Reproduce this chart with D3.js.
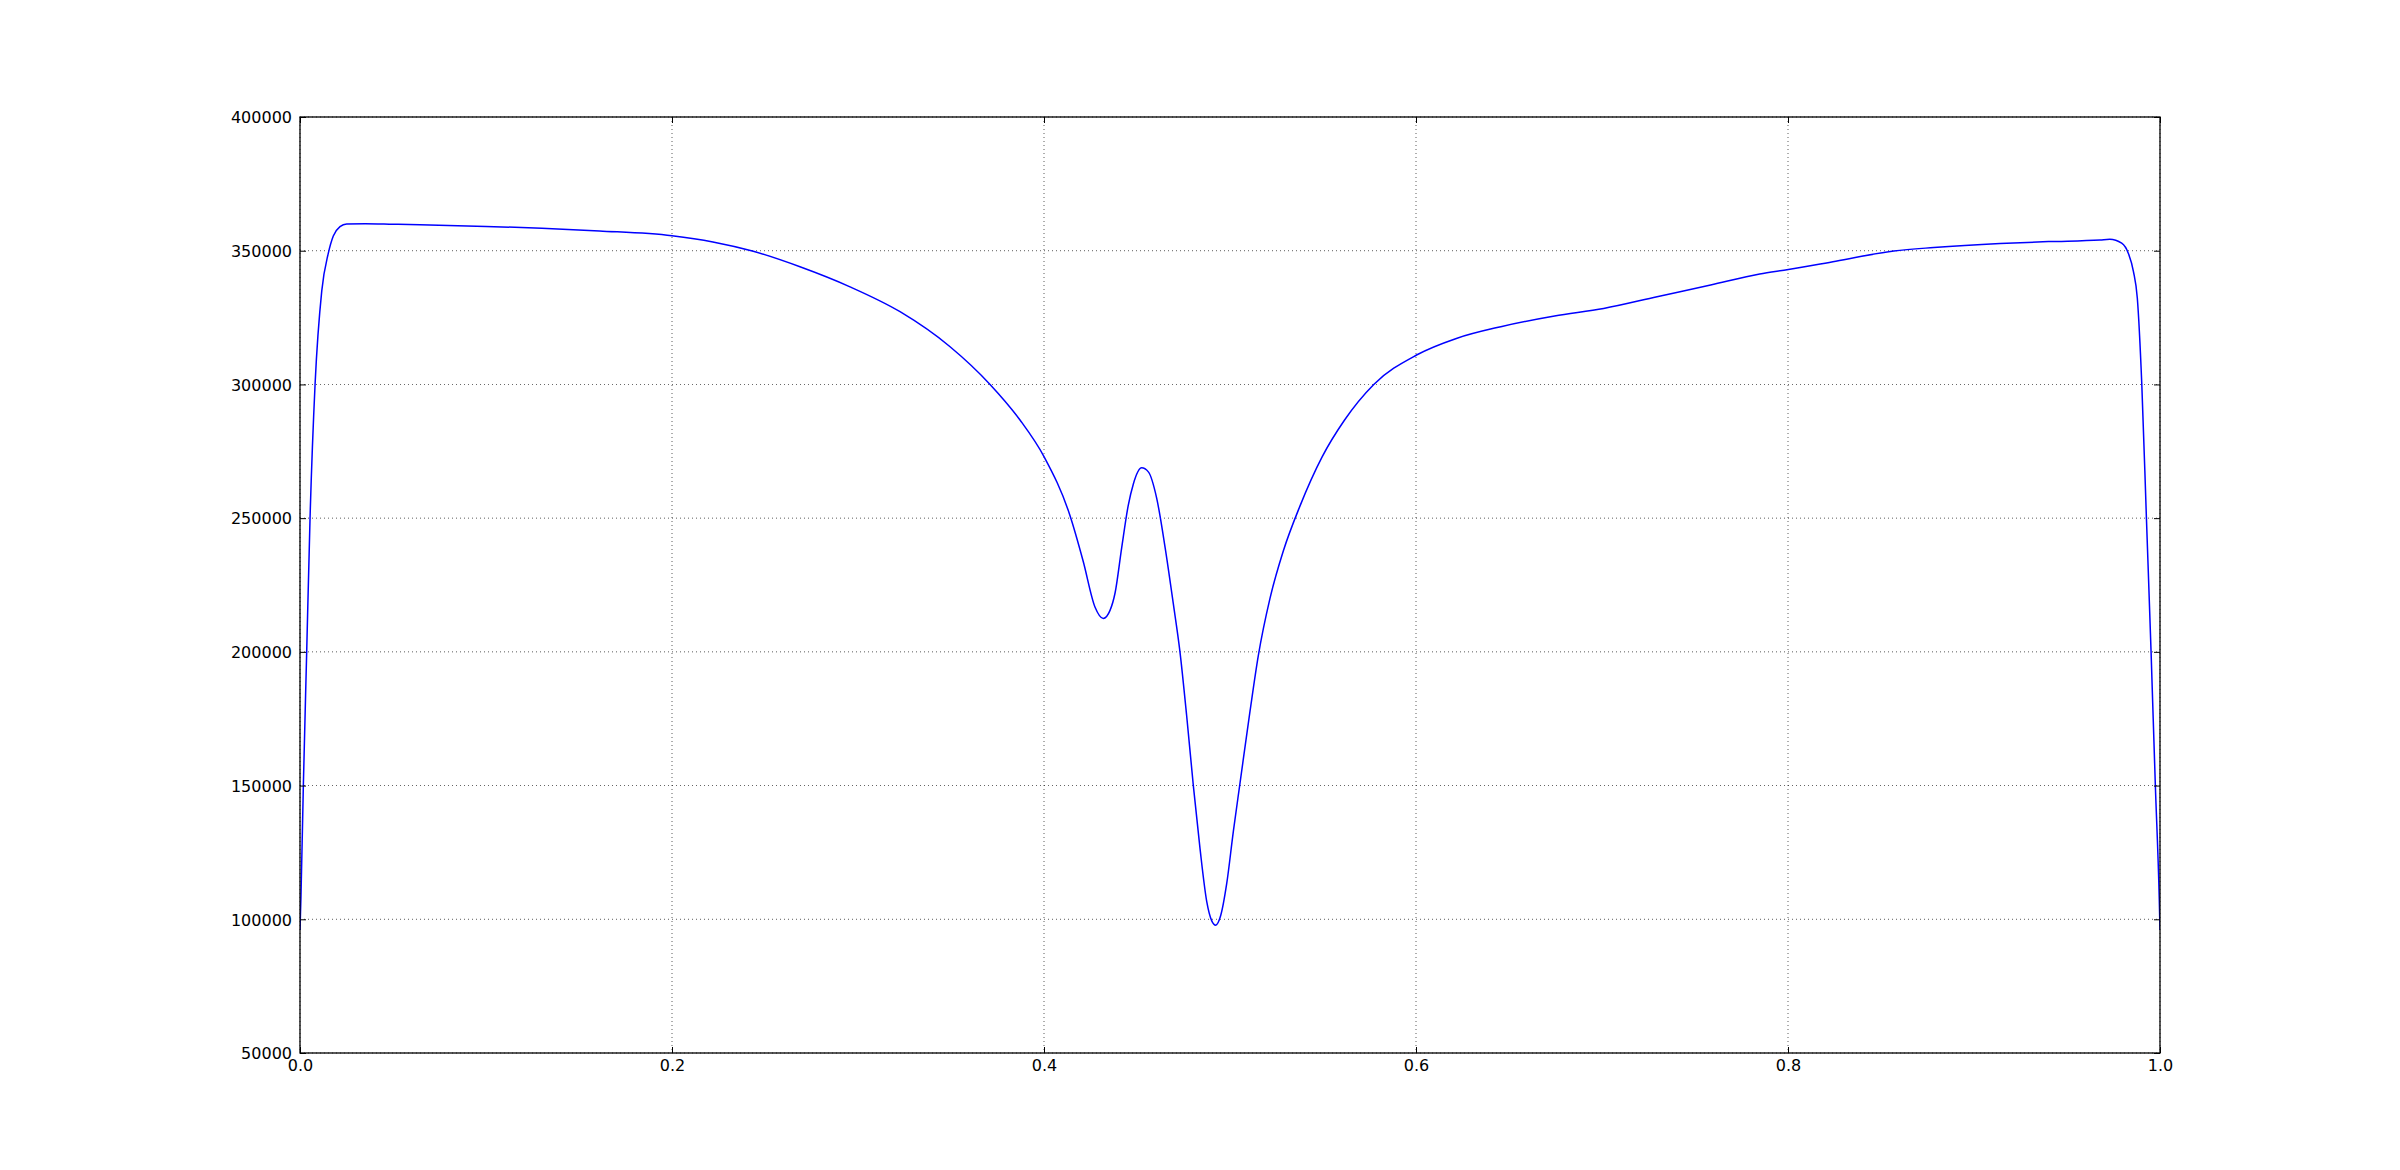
<!DOCTYPE html>
<html>
<head>
<meta charset="utf-8">
<script src="https://cdn.jsdelivr.net/npm/d3@7"></script>
<style>
  html, body { margin: 0; padding: 0; background: #fff; }
  svg { display: block; }
  .tick text { font-family: "DejaVu Sans", sans-serif; font-size: 16px; fill: #000; }
</style>
</head>
<body>
<svg id="chart" width="2400" height="1170"></svg>
<script>
// ---- data ----
const xValues = [
  0, 0.0005, 0.0018, 0.0036, 0.0054, 0.0081, 0.0117, 0.0152, 0.0179, 0.0215,
  0.0251, 0.035, 0.05, 0.0645, 0.1, 0.13, 0.161, 0.2, 0.222, 0.2437, 0.2688,
  0.2957, 0.3226, 0.3495, 0.371, 0.3871, 0.4, 0.414, 0.4211, 0.4274, 0.4319,
  0.4355, 0.4382, 0.4418, 0.4453, 0.448, 0.4525, 0.4561, 0.4606, 0.4651, 0.4695,
  0.4731, 0.4767, 0.4803, 0.4839, 0.4875, 0.4902, 0.4923, 0.495, 0.4982, 0.5018,
  0.5054, 0.5108, 0.5152, 0.5215, 0.5287, 0.5376, 0.5496, 0.5616, 0.5773, 0.6003,
  0.6217, 0.6456, 0.6745, 0.7009, 0.7296, 0.7584, 0.7848, 0.8002, 0.8257, 0.8569,
  0.8784, 0.914, 0.94, 0.9677, 0.973, 0.9794, 0.983, 0.9857, 0.9878, 0.9902,
  0.9927, 0.9952, 0.9975, 0.9996, 1.0
];
const yValues = [
  96000, 108000, 150000, 200000, 250000, 300000, 335000, 349000, 355500, 359000,
  360000, 360100, 359900, 359700, 359100, 358400, 357400, 355600, 353300, 349800, 344000,
  336500, 327200, 314100, 300000, 286700, 273000, 250900, 233800, 216800, 212500,
  215500, 222000, 239100, 254800, 262700, 268800, 267300, 257400, 239100, 218100,
  200000, 176100, 149900, 126300, 106600, 99400, 97800, 101400, 113200, 132900,
  151000, 178000, 198500, 220000, 237800, 254500, 273000, 286700, 300000, 311000,
  317200, 321600, 325600, 328400, 332800, 337200, 341300, 343000, 346100, 349900,
  351200, 352700, 353400, 354000, 354300, 352800, 349000, 342300, 332300, 300300,
  250000, 200000, 150000, 107700, 96000
];
const xTicks = [0, 0.2, 0.4, 0.6, 0.8, 1.0];
const yTicks = [50000, 100000, 150000, 200000, 250000, 300000, 350000, 400000];

// ---- layout ----
const margin = { left: 300, right: 240, top: 117, bottom: 117 };
const W = 2400, H = 1170;
const iw = W - margin.left - margin.right;
const ih = H - margin.top - margin.bottom;

const svg = d3.select("#chart");
svg.append("rect").attr("width", W).attr("height", H).attr("fill", "#fff");
const g = svg.append("g").attr("transform", `translate(${margin.left},${margin.top})`);

const x = d3.scaleLinear().domain([0, 1]).range([0, iw]);
const y = d3.scaleLinear().domain([50000, 400000]).range([ih, 0]);

// grid
const grid = g.append("g");
grid.selectAll("line.gx").data(xTicks).join("line")
  .attr("x1", d => x(d)).attr("x2", d => x(d))
  .attr("y1", 0).attr("y2", ih)
  .attr("stroke", "#000").attr("stroke-width", 0.8)
  .attr("stroke-dasharray", "1,3").attr("opacity", 0.8);
grid.selectAll("line.gy").data(yTicks).join("line")
  .attr("y1", d => y(d)).attr("y2", d => y(d))
  .attr("x1", 0).attr("x2", iw)
  .attr("stroke", "#000").attr("stroke-width", 0.8)
  .attr("stroke-dasharray", "1,3").attr("opacity", 0.8);

// clip
svg.append("defs").append("clipPath").attr("id", "clip")
  .append("rect").attr("width", iw).attr("height", ih);

const pts = xValues.map((v, i) => [v, yValues[i]]);
const line = d3.line().x(d => x(d[0])).y(d => y(d[1])).curve(d3.curveMonotoneX);
g.append("path").datum(pts)
  .attr("clip-path", "url(#clip)")
  .attr("d", line)
  .attr("fill", "none").attr("stroke", "#0000ff").attr("stroke-width", 1.5);

// axes (ticks inward)
const fmtX = d3.format(".1f");
const fmtY = d3.format("d");
const axB = g.append("g").attr("transform", `translate(0,${ih})`)
  .call(d3.axisBottom(x).tickValues(xTicks).tickFormat(fmtX).tickSizeInner(-6).tickSizeOuter(0).tickPadding(7));
const axL = g.append("g")
  .call(d3.axisLeft(y).tickValues(yTicks).tickFormat(fmtY).tickSizeInner(-6).tickSizeOuter(0).tickPadding(8));
const axT = g.append("g")
  .call(d3.axisTop(x).tickValues(xTicks).tickFormat("").tickSizeInner(-6).tickSizeOuter(0));
const axR = g.append("g").attr("transform", `translate(${iw},0)`)
  .call(d3.axisRight(y).tickValues(yTicks).tickFormat("").tickSizeInner(-6).tickSizeOuter(0));
[axB, axL, axT, axR].forEach(a => {
  a.select(".domain").remove();
  a.selectAll(".tick line").attr("stroke", "#000").attr("stroke-width", 1);
  a.selectAll(".tick text").attr("font-family", "DejaVu Sans").attr("font-size", 16);
});
axL.selectAll(".tick text").attr("dy", "0.36em");

// spines
g.append("rect").attr("width", iw).attr("height", ih)
  .attr("fill", "none").attr("stroke", "#000").attr("stroke-width", 1.3);
</script>
</body>
</html>
